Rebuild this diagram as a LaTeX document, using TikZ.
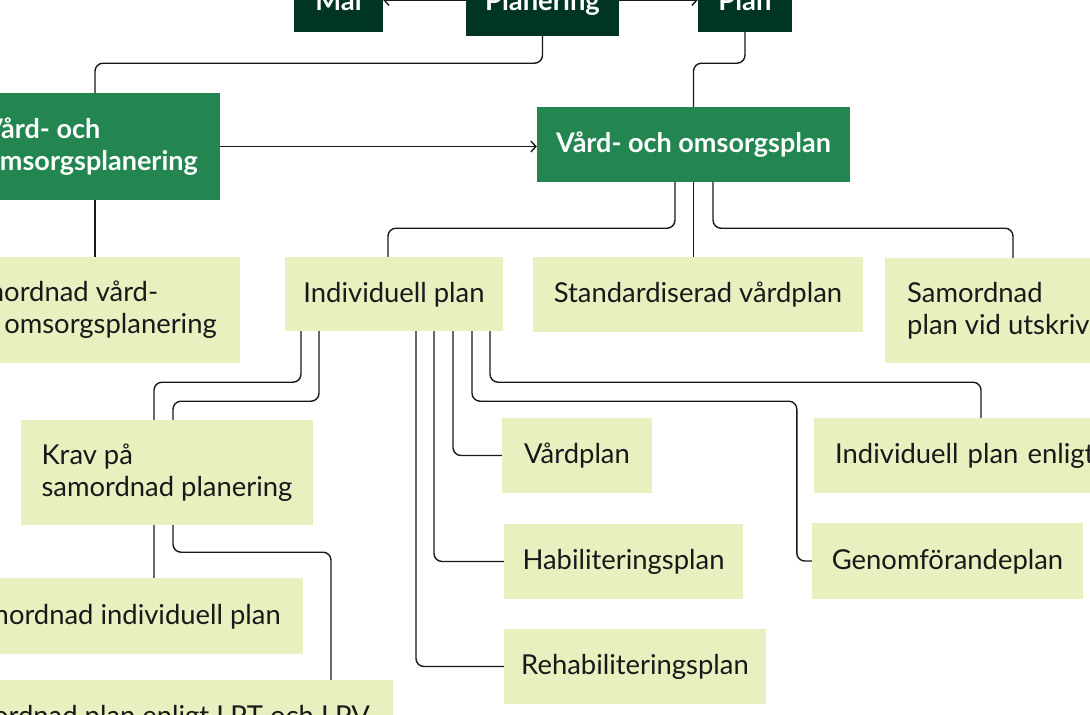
\documentclass[tikz,border=0pt]{standalone}
\usepackage{fontspec}
\setmainfont{Lato}
\usetikzlibrary{arrows.meta,backgrounds}
\definecolor{dkgreen}{RGB}{0,52,36}
\definecolor{mdgreen}{RGB}{35,133,80}
\definecolor{ltgreen}{RGB}{232,240,192}
\definecolor{ink}{RGB}{25,25,25}
\begin{document}
\begin{tikzpicture}[x=1pt,y=-1pt,
  box/.style={rectangle, inner sep=0pt, font=\fontsize{27.4}{32}\selectfont, align=left},
  one/.style={text height=20.5pt, text depth=4pt},
  topbox/.style={box, fill=dkgreen, text=white, font=\fontsize{27.4}{32}\selectfont\bfseries},
  greenbox/.style={box, fill=mdgreen, text=white, font=\fontsize{27}{32}\selectfont\bfseries},
  lightbox/.style={box, fill=ltgreen, text=ink},
  conn/.style={draw=ink, line width=1.4pt, rounded corners=8pt},
  arr/.style={conn, -{Straight Barb[length=5pt,width=11pt]}}
]
\useasboundingbox (0,0) rectangle (1090,715);
\clip (0,0) rectangle (1090,715);

\node[topbox, one, minimum width=89pt, minimum height=59.5pt] (mal) at (338.5,2.25) {Mål};
\node[topbox, one, minimum width=153pt, minimum height=67.5pt] (planering) at (542.5,2.25) {Planering};
\node[topbox, one, minimum width=94pt, minimum height=59.5pt] (plan) at (745,2.25) {Plan};

\node[greenbox, anchor=east, inner xsep=22pt, minimum height=107pt] (vop) at (220,146.5) {Vård- och\\omsorgsplanering};
\node[greenbox, one, minimum width=313pt, minimum height=75pt] (voplan) at (693.5,144.5) {Vård- och omsorgsplan};

\node[lightbox, anchor=east, inner xsep=23pt, minimum height=106pt] (svo) at (240,310) {Samordnad vård-\\och omsorgsplanering};
\node[lightbox, one, minimum width=218pt, minimum height=74pt] (ip) at (394,294) {Individuell plan};
\node[lightbox, one, minimum width=330pt, minimum height=75pt] (sv) at (698,294.5) {Standardiserad vårdplan};
\node[lightbox, anchor=west, inner xsep=22pt, minimum height=105pt] (spu) at (885,310.5) {Samordnad\\plan vid utskrivning};

\node[lightbox, minimum width=292pt, minimum height=105pt] (krav) at (167,472.5) {Krav på\\samordnad planering};
\node[lightbox, one, anchor=east, inner xsep=22pt, minimum height=76pt] (sip) at (303,616) {Samordnad individuell plan};
\node[lightbox, one, anchor=east, inner xsep=23pt, minimum height=75pt] (lpt) at (393,717.5) {Samordnad plan enligt LPT och LPV};

\node[lightbox, one, minimum width=150pt, minimum height=75pt] (vp) at (577,455.5) {Vårdplan};
\node[lightbox, one, minimum width=239pt, minimum height=75pt] (hp) at (623.5,561.5) {Habiliteringsplan};
\node[lightbox, one, minimum width=262pt, minimum height=75pt] (rp) at (635,666.5) {Rehabiliteringsplan};
\node[lightbox, one, anchor=west, inner xsep=21pt, minimum width=320pt, minimum height=75pt, text width=300pt] (ipe) at (814,455.5) {Individuell plan enligt};
\node[lightbox, one, minimum width=271pt, minimum height=76pt] (gp) at (947.5,561) {Genomförandeplan};

\begin{scope}[on background layer]
\draw[conn] (planering.south) -- ++(0,27) -| ([xshift=-125pt]vop.north east);
\draw[conn] (plan.south) -- ++(0,31) -| (voplan.north);
\draw[arr] (vop.east) -- (vop.east -| voplan.west);
\draw[conn] ([xshift=-125pt]vop.south east) -- ([xshift=-145pt]svo.north east);
\draw[conn] ([xshift=-18.5pt]voplan.south) -- ++(0,46) -| ([xshift=-6pt]ip.north);
\draw[conn] (voplan.south) -- (voplan.south |- sv.north);
\draw[conn] ([xshift=19.5pt]voplan.south) -- ++(0,46) -| ([xshift=128pt]spu.north west);
\draw[conn] ([xshift=-93pt]ip.south) -- ++(0,51) -| ([xshift=-149pt]sip.north east);
\draw[conn] ([xshift=-75pt]ip.south) -- ++(0,70) -| ([xshift=6pt,yshift=-27pt]krav.south) -| ([xshift=-62pt]lpt.north east);
\draw[conn] ([xshift=22pt]ip.south) |- (rp.west);
\draw[conn] ([xshift=40pt]ip.south) |- (hp.west);
\draw[conn] ([xshift=59pt]ip.south) |- (vp.west);
\draw[conn] ([xshift=78pt]ip.south) -- ++(0,70) -| ([xshift=-15pt]gp.west) -- (gp.west);
\draw[conn] ([xshift=96pt]ip.south) -- ++(0,51) -| ([xshift=167pt]ipe.north west);
\draw[arr] ([yshift=2.25pt]planering.west) -- ([yshift=2.25pt]mal.east);
\draw[arr] ([yshift=2.25pt]planering.east) -- ([yshift=2.25pt]plan.west);
\end{scope}
\end{tikzpicture}
\end{document}
